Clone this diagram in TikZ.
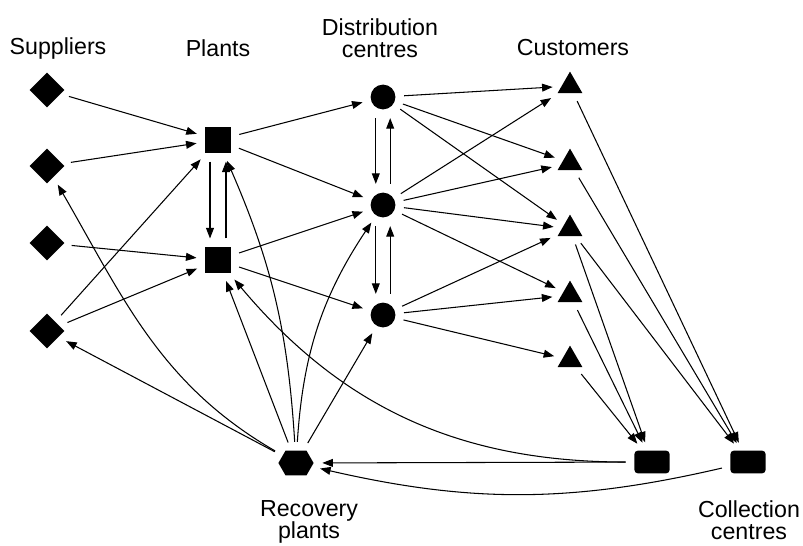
\documentclass[tikz,border=0pt]{standalone}
\usepackage{fontspec}
\setmainfont{Liberation Sans}
\usetikzlibrary{shapes.geometric,shapes.symbols,arrows.meta}

\begin{document}
\begin{tikzpicture}[
      x=0.025cm, y=-0.025cm,
      supplier/.style={diamond, fill=black, inner sep=0pt,
                       minimum width=0.88cm, minimum height=0.88cm},
      plant/.style={rectangle, fill=black, inner sep=0pt, minimum size=0.64cm},
      dcentre/.style={circle, fill=black, inner sep=0pt, minimum size=0.62cm},
      customer/.style={regular polygon, regular polygon sides=3, fill=black,
                       inner sep=0pt, minimum size=0.72cm},
      recovery/.style={signal, signal to=east and west, signal pointer angle=120,
                       fill=black, inner sep=0pt, minimum width=0.88cm, minimum height=0.62cm},
      collect/.style={rectangle, rounded corners=2.5pt, fill=black, inner sep=0pt,
                      minimum width=0.88cm, minimum height=0.57cm},
      title/.style={font=\fontsize{16.5}{16}\selectfont, align=center, inner sep=0pt},
      flow/.style={-{Triangle[length=7.5pt,width=5.6pt]}, line width=0.75pt,
                   shorten >=6pt, shorten <=6pt}
    ]
    \useasboundingbox (0,0) rectangle (803,546);

    % column titles
    \node[title] (tsp) at (58,48)   {Suppliers};
    \node[title] (tpl) at (218,48)  {Plants};
    \node[title] (tdc) at (380,38)  {Distribution\\centres};
    \node[title] (tcu) at (573,48)  {Customers};
    \node[title] (tre) at (309,522) {Recovery\\plants};
    \node[title] (tco) at (749,520) {Collection\\centres};

    % facilities
    \node[supplier] (sp1) at (47,90)  {};
    \node[supplier] (sp2) at (47,166) {};
    \node[supplier] (sp3) at (47,243) {};
    \node[supplier] (sp4) at (47,331) {};
    \node[plant]    (pl1) at (218,140) {};
    \node[plant]    (pl2) at (218,260) {};
    \node[dcentre]  (dc1) at (383,97)  {};
    \node[dcentre]  (dc2) at (383,205) {};
    \node[dcentre]  (dc3) at (383,315) {};
    \node[customer] (cu1) at (570,86)  {};
    \node[customer] (cu2) at (570,163) {};
    \node[customer] (cu3) at (570,229) {};
    \node[customer] (cu4) at (570,295) {};
    \node[customer] (cu5) at (570,360) {};
    \node[recovery] (rec) at (296,463) {};
    \node[collect]  (co1) at (652,462) {};
    \node[collect]  (co2) at (748,462) {};

    % forward flows
    \draw[flow] (sp1) -- (pl1);
    \draw[flow] (sp2) -- (pl1);
    \draw[flow] (sp3) -- (pl2);
    \draw[flow] (sp4) -- (pl1);
    \draw[flow] (sp4) -- (pl2);
    \draw[flow] (pl1) -- (dc1);
    \draw[flow] (pl1) -- (dc2);
    \draw[flow] (pl2) -- (dc2);
    \draw[flow] (pl2) -- (dc3);
    \draw[flow] ([xshift=-0.2cm]pl1.south) -- ([xshift=-0.2cm]pl2.north);
    \draw[flow] ([xshift=0.2cm]pl2.north) -- ([xshift=0.2cm]pl1.south);
    \draw[flow] ([xshift=-0.18cm]dc1.south) -- ([xshift=-0.18cm]dc2.north);
    \draw[flow] ([xshift=0.18cm]dc2.north) -- ([xshift=0.18cm]dc1.south);
    \draw[flow] ([xshift=-0.18cm]dc2.south) -- ([xshift=-0.18cm]dc3.north);
    \draw[flow] ([xshift=0.18cm]dc3.north) -- ([xshift=0.18cm]dc2.south);
    \draw[flow] (dc1) -- (cu1);
    \draw[flow] (dc1) -- (cu2);
    \draw[flow] (dc1) -- (cu3);
    \draw[flow] (dc2) -- (cu1);
    \draw[flow] (dc2) -- (cu2);
    \draw[flow] (dc2) -- (cu3);
    \draw[flow] (dc2) -- (cu4);
    \draw[flow] (dc3) -- (cu3);
    \draw[flow] (dc3) -- (cu4);
    \draw[flow] (dc3) -- (cu5);

    % reverse flows
    \draw[flow] (cu1) -- (co2);
    \draw[flow] (cu2) -- (co2);
    \draw[flow] (cu3) -- (co2);
    \draw[flow] (cu3) -- (co1);
    \draw[flow] (cu4) -- (co1);
    \draw[flow] (cu5) -- (co1);
    \draw[flow] (co1) -- (rec);
    \draw[flow] (co2) to[bend left=13] (rec);
    \draw[flow] (co1) to[bend left=25] (pl2);
    \draw[flow] (rec) -- (sp4);
    \draw[flow] (rec) to[out=150, in=-60] (sp2);
    \draw[flow] (rec) -- (pl2);
    \draw[flow] (rec) to[bend right=10] (pl1);
    \draw[flow] (rec) to[bend left=15] (dc2);
    \draw[flow] (rec) -- (dc3);
  \end{tikzpicture}
\end{document}
